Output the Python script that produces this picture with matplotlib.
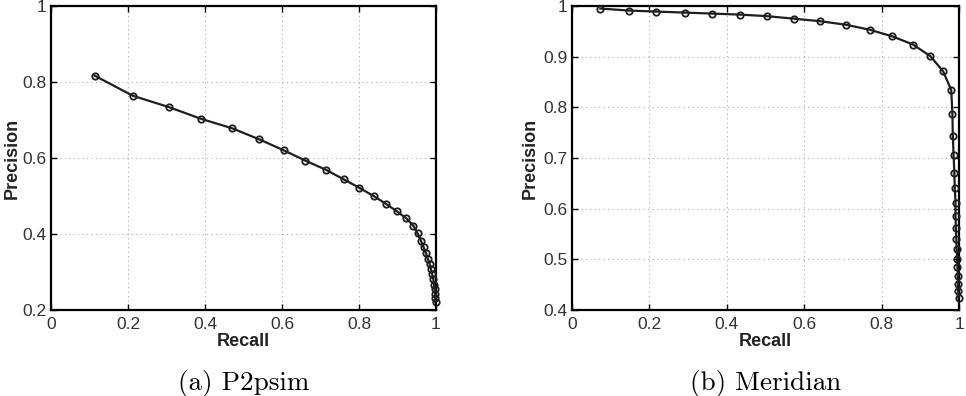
import matplotlib
matplotlib.use("Agg")
import matplotlib.pyplot as plt

# P2psim
p2_recall = [0.113, 0.212, 0.306, 0.390, 0.471, 0.541, 0.605, 0.661, 0.714, 0.760,
             0.800, 0.838, 0.869, 0.898, 0.923, 0.941, 0.952, 0.961, 0.968, 0.974,
             0.979, 0.984, 0.987, 0.990, 0.993, 0.995, 0.997, 0.998, 0.998, 0.999]
p2_precision = [0.817, 0.764, 0.734, 0.703, 0.678, 0.649, 0.620, 0.593, 0.569, 0.544,
                0.522, 0.500, 0.480, 0.460, 0.441, 0.422, 0.402, 0.382, 0.365, 0.349,
                0.334, 0.320, 0.307, 0.294, 0.281, 0.267, 0.254, 0.242, 0.231, 0.222]

# Meridian
me_recall = [0.073, 0.147, 0.218, 0.291, 0.363, 0.434, 0.503, 0.573, 0.641, 0.708,
             0.770, 0.828, 0.881, 0.926, 0.959, 0.980, 0.983, 0.984, 0.986, 0.988,
             0.989, 0.991, 0.991, 0.992, 0.993, 0.994, 0.995, 0.996, 0.997, 0.997,
             0.998, 0.999]
me_precision = [0.995, 0.991, 0.989, 0.987, 0.985, 0.983, 0.980, 0.975, 0.970, 0.963,
                0.953, 0.940, 0.924, 0.901, 0.871, 0.834, 0.787, 0.744, 0.706, 0.671,
                0.641, 0.612, 0.586, 0.562, 0.540, 0.520, 0.501, 0.484, 0.468, 0.452,
                0.437, 0.424]

x_ticks = [0, 0.2, 0.4, 0.6, 0.8, 1]
x_ticklabels = ["0", "0.2", "0.4", "0.6", "0.8", "1"]
p2_yticks = [0.2, 0.4, 0.6, 0.8, 1]
p2_yticklabels = ["0.2", "0.4", "0.6", "0.8", "1"]
me_yticks = [0.4, 0.5, 0.6, 0.7, 0.8, 0.9, 1]
me_yticklabels = ["0.4", "0.5", "0.6", "0.7", "0.8", "0.9", "1"]
captions = ["(a) P2psim", "(b) Meridian"]

plt.rcParams['font.family'] = ['Liberation Sans', 'DejaVu Sans']

fig = plt.figure(figsize=(9.66, 3.96), dpi=100)
W, H = 966, 396
ax1 = fig.add_axes([51 / W, 1 - 310 / H, 385 / W, 304 / H])
ax2 = fig.add_axes([572 / W, 1 - 310 / H, 387 / W, 304 / H])

def style(ax, x, y, yt, ytl, ylim, cap, ylab_x):
    ax.plot(x, y, color='#1e1e1e', lw=1.6, marker='o', ms=4.6, mfc='none',
            mec='#1e1e1e', mew=1.3, clip_on=False, zorder=3)
    ax.set_xlim(0, 1)
    ax.set_ylim(*ylim)
    ax.set_xticks(x_ticks)
    ax.set_xticklabels(x_ticklabels)
    ax.set_yticks(yt)
    ax.set_yticklabels(ytl)
    ax.grid(True, linestyle=(0, (1, 3)), color='#aaaaaa', lw=0.8)
    ax.tick_params(direction='in', length=4, width=1, top=True, right=True,
                   labelsize=12.5, labelcolor='#333333')
    ax.tick_params(axis='x', pad=5)
    ax.tick_params(axis='y', pad=3)
    for s in ax.spines.values():
        s.set_linewidth(1.6)
    ax.set_xlabel('Recall', fontsize=13, fontweight='bold', color='#222222')
    ax.set_ylabel('Precision', fontsize=13, fontweight='bold', color='#222222')
    ax.xaxis.set_label_coords(0.5, -0.105)
    ax.yaxis.set_label_coords(ylab_x, 0.5)
    ax.xaxis.label.set_va('center')
    ax.yaxis.label.set_va('center')
    ax.text(0.5, -0.243, cap, transform=ax.transAxes, ha='center', va='center',
            fontsize=19.5, family='cmr10')

style(ax1, p2_recall, p2_precision, p2_yticks, p2_yticklabels, (0.2, 1), captions[0], -0.101)
style(ax2, me_recall, me_precision, me_yticks, me_yticklabels, (0.4, 1), captions[1], -0.1085)

fig.savefig('out.png', dpi=100)
